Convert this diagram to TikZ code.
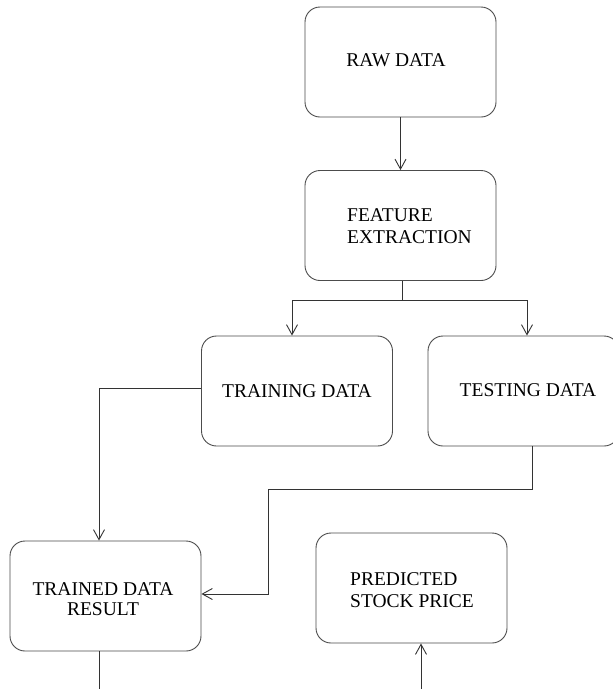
\documentclass[tikz,border=0pt]{standalone}
\usepackage{fontspec}
\setmainfont{Liberation Serif}
\usetikzlibrary{arrows.meta}
\begin{document}
\begin{tikzpicture}[x=1pt,y=-1pt,
  box/.style={draw=black!70, line width=0.9pt, rounded corners=15pt, minimum width=191pt, minimum height=110pt, inner sep=0pt},
  lbl/.style={font=\fontsize{19.5}{22}\selectfont, inner sep=0pt, text=black},
  conn/.style={draw=black!80, line width=0.9pt},
  arr/.style={conn, -{Straight Barb[length=10pt,width=11pt,line width=0.9pt]}}]
\useasboundingbox (0,0) rectangle (613,689);
\clip (0,0) rectangle (613,689);
\fill[white] (0,0) rectangle (613,689);
% boxes
\node[box] (raw) at (400.5,62) {};
\node[box] (fe) at (400.5,225.5) {};
\node[box] (train) at (297,391) {};
\node[box] (test) at (523.5,391) {};
\node[box] (trained) at (105.5,596) {};
\node[box] (pred) at (411.5,588) {};
% labels
\node[lbl] (t-raw) at (396,60) {RAW DATA};
\node[lbl, anchor=west, align=left] (t-fe) at (347,226) {FEATURE\\EXTRACTION};
\node[lbl] (t-train) at (297,391) {TRAINING DATA};
\node[lbl] (t-test) at (528,390) {TESTING DATA};
\node[lbl, align=center, font=\fontsize{19.5}{20}\selectfont] (t-trained) at (103,599) {TRAINED DATA\\RESULT};
\node[lbl, anchor=west, align=left] (t-pred) at (350,590) {PREDICTED\\STOCK PRICE};
% coordinates
\coordinate (split) at (402,300);
\coordinate (bot1) at (99,689);
\coordinate (bot2) at (421,689);
% connectors
\draw[arr] (raw.south) -- (raw.south |- fe.north);
\draw[conn] ([xshift=1.5pt]fe.south) -- (split);
\draw[arr] (split) -| ([xshift=-5pt]train.north);
\draw[arr] (split) -| ([xshift=3.5pt]test.north);
\draw[arr] (train.west |- 0,388) -| ([xshift=-6.5pt]trained.north);
\draw[arr] ([xshift=8.5pt]test.south) |- (268,489) |- (trained.east |- 0,594);
\draw[conn] ([xshift=-6.5pt]trained.south) -- (bot1);
\draw[arr] (bot2) -- (bot2 |- pred.south);
\end{tikzpicture}
\end{document}
